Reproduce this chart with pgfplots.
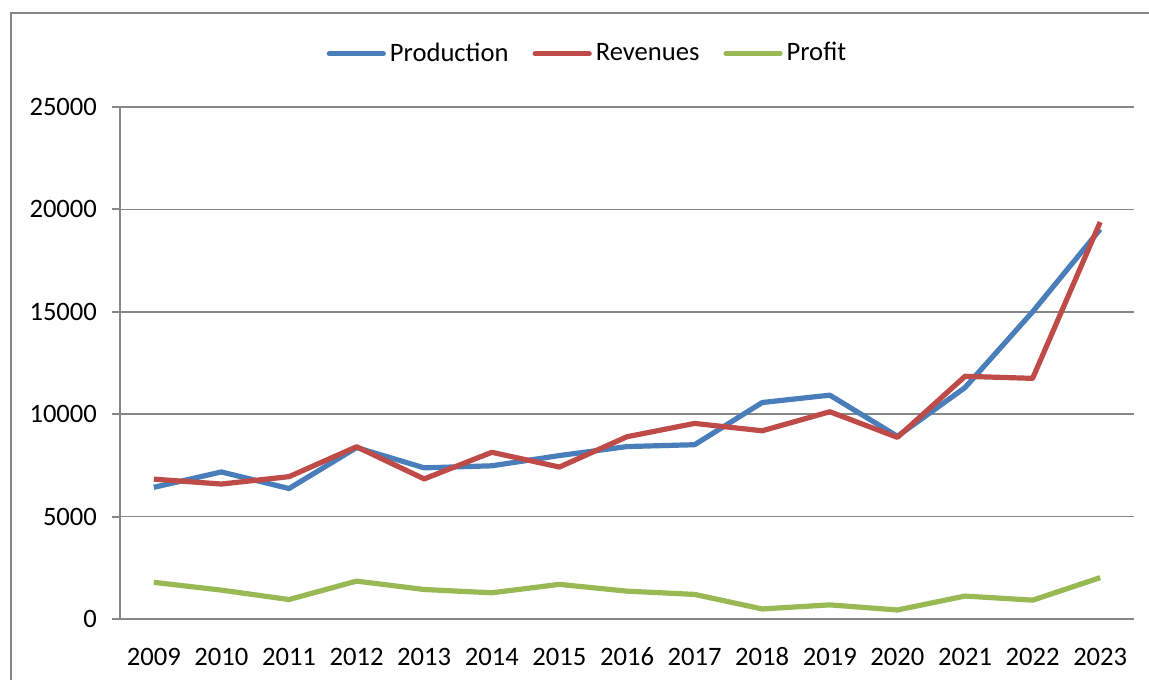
\documentclass[border=0pt]{standalone}
\usepackage{fontspec}
\setmainfont{Carlito}
\usepackage{pgfplots}
\pgfplotsset{compat=1.18}
\definecolor{cblue}{HTML}{4A7EBB}
\definecolor{cred}{HTML}{BE4B48}
\definecolor{cgreen}{HTML}{98B954}
\definecolor{cgrid}{HTML}{878787}
\begin{document}
\fontsize{13}{15}\selectfont
\begin{tikzpicture}
\path[use as bounding box] (0,0) rectangle (574.5pt,339.5pt);
\draw[cgrid, line width=0.8pt] (5.5pt,-5pt) -- (5.5pt,333pt) -- (580pt,333pt);
\begin{axis}[
  at={(60pt,30pt)}, anchor=south west,
  scale only axis, width=507pt, height=256pt,
  xmin=-0.5, xmax=14.5, ymin=0, ymax=25000,
  axis x line*=bottom, axis y line*=left,
  axis line style={cgrid, line width=1pt, -},
  xtick={0,...,14},
  xticklabels={2009,2010,2011,2012,2013,2014,2015,2016,2017,2018,2019,2020,2021,2022,2023},
  x tick style={draw=none},
  extra x ticks={-0.5,0.5,...,14.5},
  extra x tick labels={},
  extra x tick style={grid=none, tick style={cgrid, line width=1pt}, major tick length=4pt},
  ytick={0,5000,...,25000},
  scaled y ticks=false,
  /pgf/number format/1000 sep={},
  /pgf/number format/assume math mode=true,
  y tick style={cgrid, line width=1pt},
  tick align=outside, major tick length=4pt,
  ymajorgrids, grid style={cgrid, line width=0.8pt},
  ticklabel style={font=\fontsize{13.3}{15}\selectfont},
  xticklabel style={text height=9pt, text depth=0pt, yshift=-5.5pt},
  yticklabel style={xshift=-3pt},
  legend columns=3,
  legend style={at={(0.462,1.104)}, anchor=center, draw=none, fill=none,
    font=\fontsize{13.3}{15}\selectfont,
    /tikz/every even column/.append style={column sep=10pt}},
  legend image code/.code={\draw[#1, line cap=round] (0pt,0pt) -- (27pt,0pt);},
  every axis plot/.append style={line width=2.6pt, line join=round},
]
\addplot[cblue] coordinates {(0,6430) (1,7180) (2,6370) (3,8370) (4,7380) (5,7480) (6,7980) (7,8420) (8,8510) (9,10570) (10,10930) (11,8920) (12,11300) (13,15000) (14,19030)};
\addlegendentry{Production}
\addplot[cred] coordinates {(0,6830) (1,6590) (2,6950) (3,8410) (4,6840) (5,8140) (6,7420) (7,8900) (8,9550) (9,9190) (10,10120) (11,8870) (12,11850) (13,11750) (14,19380)};
\addlegendentry{Revenues}
\addplot[cgreen] coordinates {(0,1790) (1,1410) (2,950) (3,1850) (4,1440) (5,1280) (6,1690) (7,1360) (8,1200) (9,490) (10,690) (11,440) (12,1120) (13,920) (14,2020)};
\addlegendentry{Profit}
\end{axis}
\end{tikzpicture}
\end{document}
